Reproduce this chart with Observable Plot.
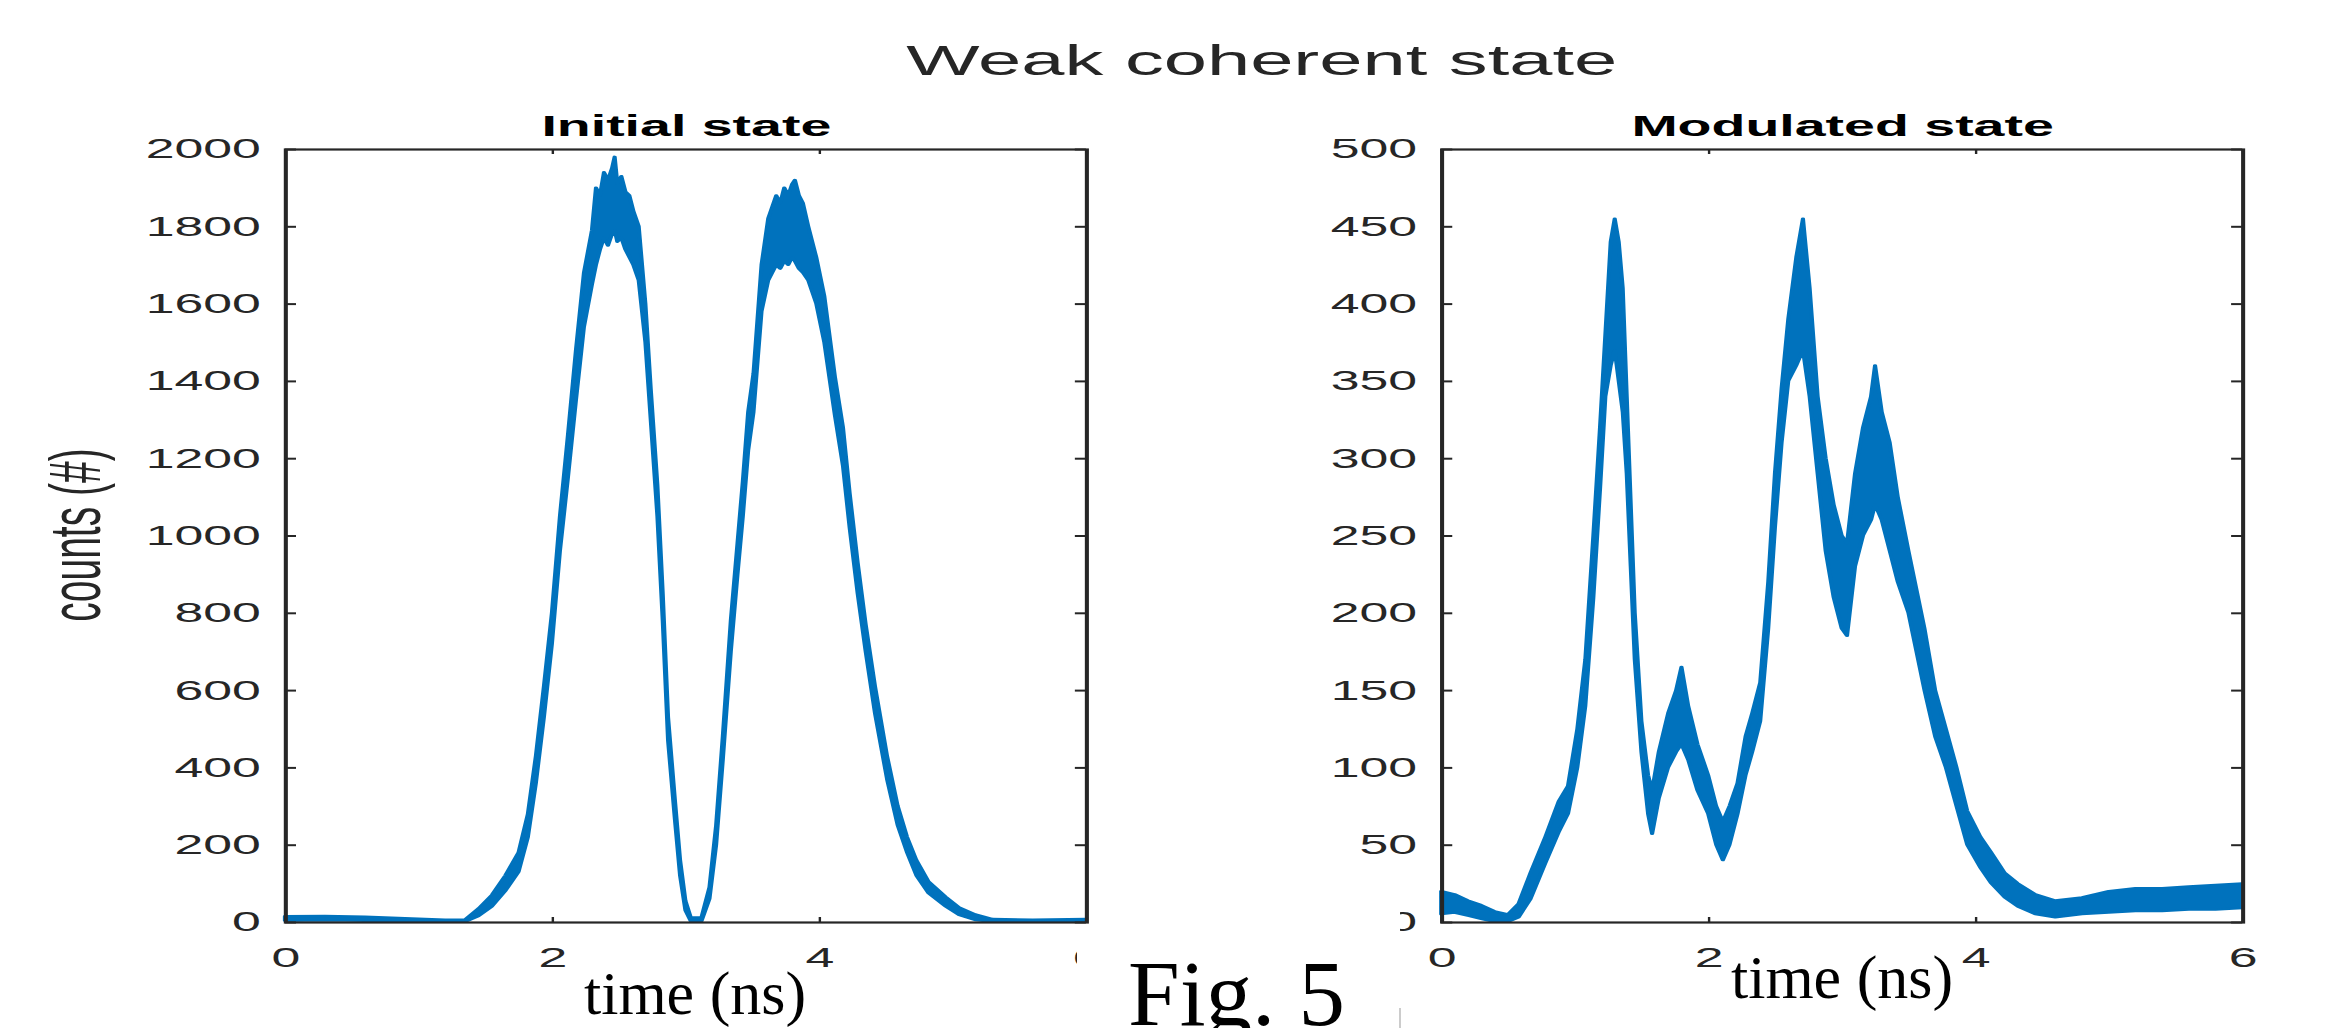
<!DOCTYPE html>
<html><head><meta charset="utf-8">
<script src="https://cdn.jsdelivr.net/npm/d3@7"></script>
<script src="https://cdn.jsdelivr.net/npm/@observablehq/plot@0.6"></script>
<style>
html,body{margin:0;padding:0;background:#fff;width:2325px;height:1028px;overflow:hidden;}
#stretch{position:absolute;left:0;top:0;width:1257px;height:1028px;transform:scaleX(1.85);transform-origin:0 0;}
.panel{position:absolute;top:0;}
#overlay{position:absolute;left:0;top:0;}
</style></head><body>
<div id="stretch"></div>
<svg id="overlay" width="2325" height="1028"></svg>
<script>
// ---- data ----
const suptitle = "Weak coherent state";
const titleInit = "Initial state";
const titleMod = "Modulated state";
const yLabel = "counts (#)";
const xLabel = "time (ns)";
const figLabel = "Fig. 5";
const xTicks = [0, 2, 4, 6];
const yTicksInit = [0, 200, 400, 600, 800, 1000, 1200, 1400, 1600, 1800, 2000];
const yTicksMod = [0, 50, 100, 150, 200, 250, 300, 350, 400, 450, 500];

// Initial state: time (ns), lower and upper edge of the noisy trace (counts)
const tInit = [0,0.3,0.6,0.9,1.2,1.35,1.45,1.55,1.65,1.75,1.82,1.88,1.94,2.0,2.06,2.12,2.18,2.24,
  2.3,2.33,2.36,2.39,2.42,2.45,2.47,2.49,2.52,2.55,2.58,2.61,
  2.65,2.7,2.74,2.79,2.83,2.87,2.92,2.96,3.0,3.04,3.12,3.18,3.23,3.28,3.34,3.39,3.43,3.47,3.51,3.57,
  3.62,3.65,3.68,3.71,3.74,3.77,3.80,3.82,3.85,3.88,3.92,
  3.98,4.04,4.12,4.18,4.23,4.29,4.35,4.42,4.51,4.59,4.66,4.73,4.82,4.95,5.05,5.17,5.3,5.6,6.0];
const loInit = [3,4,3,2,0,0,15,40,80,130,220,360,530,720,960,1150,1350,1540,
  1650,1700,1740,1770,1750,1780,1790,1760,1770,1740,1720,1700,
  1660,1500,1300,1050,780,470,270,120,30,2,2,60,200,420,700,900,1050,1220,1320,1580,
  1660,1680,1700,1690,1710,1700,1720,1710,1690,1680,1660,
  1600,1500,1310,1180,1020,850,700,540,370,250,180,120,75,40,18,5,0,0,2];
const hiInit = [15,16,14,10,6,7,35,70,120,180,280,430,610,800,1050,1260,1480,1680,
  1790,1900,1880,1940,1920,1950,1980,1910,1930,1890,1880,1840,
  1800,1600,1380,1130,850,530,320,160,55,12,12,90,250,480,780,980,1140,1320,1420,1700,
  1820,1850,1880,1860,1900,1880,1910,1920,1880,1860,1800,
  1720,1620,1410,1280,1110,930,770,610,430,300,220,160,105,65,38,20,8,6,8];

// Modulated state
const tMod = [0,0.1,0.2,0.3,0.4,0.5,0.58,0.67,0.78,0.88,0.95,1.02,1.08,1.14,1.19,1.23,1.27,1.30,1.33,1.36,1.39,1.42,1.45,1.50,1.55,1.58,1.63,1.70,1.76,1.80,1.85,1.92,2.00,2.06,2.11,2.16,2.22,2.28,2.33,2.39,2.45,2.50,2.55,2.60,2.66,2.71,2.76,2.82,2.88,2.94,3.00,3.04,3.10,3.16,3.22,3.25,3.30,3.36,3.42,3.50,3.56,3.62,3.70,3.78,3.86,3.94,4.04,4.12,4.22,4.32,4.45,4.6,4.8,5.0,5.2,5.4,5.6,5.8,6.0];
const loMod = [5,6,4,2,0,0,3,15,38,58,70,100,140,210,280,340,360,370,350,330,290,230,170,110,70,57,80,100,110,115,105,85,70,50,40,50,70,95,110,130,190,255,310,350,360,370,340,290,240,210,190,185,230,250,260,270,260,240,220,200,175,150,120,100,75,50,35,25,16,10,5,3,5,6,7,7,8,8,9];
const hiMod = [20,18,14,11,7,5,12,32,55,78,88,125,170,250,320,380,440,455,440,410,340,270,200,130,95,85,110,135,150,165,140,115,95,75,65,75,90,120,135,155,220,290,345,390,430,455,410,340,300,270,250,245,290,320,340,360,330,310,275,240,215,190,150,125,100,72,55,45,32,25,18,14,16,20,22,22,23,24,25];

// ---- drawing ----
const BLUE = "#0072BD";
const AX = "#262626";
const SANS = "'Liberation Sans', Arial, Helvetica, sans-serif";
const SERIF = "'Liberation Serif', 'Times New Roman', serif";
const FRAME_W = 433, FRAME_H = 773, ML = 100, MR = 20, MT = 149, MB = 106;

function panel(t, lo, hi, yMax, yTicks, title, leftPos) {
  const data = t.map((x, i) => ({t: x, lo: lo[i], hi: hi[i]}));
  const svg = Plot.plot({
    width: ML + FRAME_W + MR, height: 1028,
    marginLeft: ML, marginRight: MR, marginTop: MT, marginBottom: MB,
    style: `background:transparent;max-width:none;overflow:visible;font-family:${SANS};`,
    x: {domain: [0, 6]},
    y: {domain: [0, yMax]},
    marks: [
      Plot.areaY(data, {x: "t", y1: "lo", y2: "hi", fill: BLUE, stroke: BLUE, strokeWidth: 2.2, strokeLinejoin: "round"}),
      Plot.frame({stroke: AX, strokeWidth: 2.2}),
      Plot.tickY(yTicks, {y: d => d, insetRight: FRAME_W - 6, stroke: AX, strokeWidth: 2}),
      Plot.tickY(yTicks, {y: d => d, insetLeft: FRAME_W - 6, stroke: AX, strokeWidth: 2}),
      Plot.tickX(xTicks, {x: d => d, insetTop: FRAME_H - 5, stroke: AX, strokeWidth: 1.3}),
      Plot.tickX(xTicks, {x: d => d, insetBottom: FRAME_H - 5, stroke: AX, strokeWidth: 1.3}),
      Plot.axisY(yTicks, {tickSize: 0, tickPadding: 13.5, fontSize: 28, fill: AX, label: null, tickFormat: d => String(d)}),
      Plot.axisX(xTicks, {tickSize: 0, tickPadding: 25, fontSize: 28, fill: AX, label: null, tickFormat: d => String(d)}),
      Plot.text([title], {text: d => d, frameAnchor: "top", lineAnchor: "bottom", dy: -14, fontSize: 30, fontWeight: "bold", fill: "#000"})
    ]
  });
  const div = document.createElement("div");
  div.className = "panel";
  div.style.left = leftPos + "px";
  div.appendChild(svg);
  document.getElementById("stretch").appendChild(div);
}

panel(tInit, loInit, hiInit, 2000, yTicksInit, titleInit, 154 - ML);
panel(tMod, loMod, hiMod, 500, yTicksMod, titleMod, 779 - ML);

// texts of the (stretched) figure: suptitle and y label
const txt = d3.select("#stretch").append("svg")
  .attr("width", 1257).attr("height", 1028)
  .style("position", "absolute").style("left", 0).style("top", 0).style("overflow", "visible");
txt.append("text").attr("x", 682).attr("y", 75).attr("text-anchor", "middle")
  .attr("font-family", SANS).attr("font-size", 42).attr("fill", AX).text(suptitle);
txt.append("text").attr("transform", "translate(54,535) rotate(-90)").attr("text-anchor", "middle")
  .attr("font-family", SANS).attr("font-size", 39).attr("fill", AX).text(yLabel);

// overlay added on top of the figure (real pixels)
const ov = d3.select("#overlay");
ov.append("rect").attr("x", 1077).attr("y", 940).attr("width", 323).attr("height", 88).attr("fill", "#fff");
ov.append("rect").attr("x", 1095).attr("y", 910).attr("width", 305).attr("height", 40).attr("fill", "#fff");
ov.append("line").attr("x1", 1400).attr("x2", 1400).attr("y1", 1008).attr("y2", 1028).attr("stroke", "#bbb").attr("stroke-width", 1.5);
ov.append("text").attr("x", 695).attr("y", 1014).attr("text-anchor", "middle")
  .attr("font-family", SERIF).attr("font-size", 62).attr("fill", "#000").text(xLabel);
ov.append("text").attr("x", 1842).attr("y", 998).attr("text-anchor", "middle")
  .attr("font-family", SERIF).attr("font-size", 62).attr("fill", "#000").text(xLabel);
ov.append("text").attr("x", 1128).attr("y", 1025)
  .attr("font-family", SERIF).attr("font-size", 93).attr("fill", "#000").text(figLabel);
</script>
</body></html>
